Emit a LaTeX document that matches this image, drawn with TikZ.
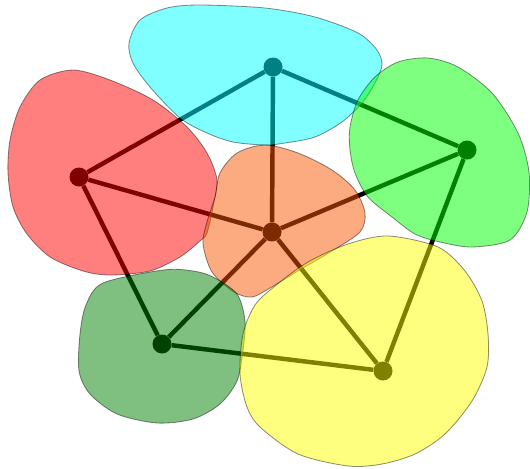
\documentclass[tikz,border=0pt]{standalone}
\usepackage{xcolor}
\usepackage{tikz}
\definecolor{regcyan}{RGB}{0,255,255}
\definecolor{reggreen}{RGB}{0,255,0}
\definecolor{regred}{RGB}{255,0,0}
\definecolor{regorange}{RGB}{250,85,0}
\definecolor{regdark}{RGB}{0,128,0}
\definecolor{regyellow}{RGB}{255,255,0}

\begin{document}
\begin{tikzpicture}[
    x=0.03cm, y=-0.03cm,
    vertex/.style={circle, fill=black, inner sep=0pt, minimum size=0.57cm},
    edge/.style={line width=3.8pt, black},
    region/.style={draw=black, draw opacity=0.45, fill opacity=0.5,
                   line width=0.7pt},
]
\useasboundingbox (0,0) rectangle (530,468);

%% Vertices
\node[vertex] (top)    at (273,67)  {};
\node[vertex] (right)  at (467,150) {};
\node[vertex] (left)   at (79,177)  {};
\node[vertex] (centre) at (272,232) {};
\node[vertex] (lower)  at (162,344) {};
\node[vertex] (bottom) at (383,371) {};

%% Edges
\draw[edge] (top)    -- (left);
\draw[edge] (top)    -- (centre);
\draw[edge] (top)    -- (right);
\draw[edge] (left)   -- (centre);
\draw[edge] (left)   -- (lower);
\draw[edge] (centre) -- (right);
\draw[edge] (centre) -- (lower);
\draw[edge] (centre) -- (bottom);
\draw[edge] (right)  -- (bottom);
\draw[edge] (lower)  -- (bottom);

%% Regions
\draw[region, fill=regcyan] plot[smooth cycle] coordinates {
    (129,43) (140,20) (167,8) (200,5) (265,8) (315,17) (358,33) (377,50)
    (382,65) (375,83) (362,103) (342,122) (315,137) (285,143) (265,145)
    (233,142) (207,133) (180,118) (150,87) (133,63)};
\draw[region, fill=regred] plot[smooth cycle] coordinates {
    (73,70) (110,80) (153,100) (187,127) (207,153) (217,180) (213,207)
    (207,233) (200,241) (180,257) (150,271) (110,275) (83,271) (50,257)
    (27,234) (13,207) (8,173) (10,140) (20,107) (40,80)};
\draw[region, fill=reggreen] plot[smooth cycle] coordinates {
    (428,58) (458,67) (492,93) (518,133) (529,172) (527,212) (510,240)
    (472,247) (440,242) (415,234) (392,217) (368,197) (355,173)
    (350,150) (350,127) (358,100) (375,77) (398,62)};
\draw[region, fill=regorange] plot[smooth cycle] coordinates {
    (265,145) (298,153) (332,170) (355,190) (365,213) (360,232) (332,251)
    (298,271) (270,288) (252,297) (234,292) (212,272) (203,244) (207,222)
    (215,197) (220,173) (237,153)};
\draw[region, fill=regdark] plot[smooth cycle] coordinates {
    (163,270) (193,271) (213,277) (237,294) (245,321) (243,351) (237,381)
    (220,404) (193,419) (157,423) (117,414) (90,394) (79,371) (80,334)
    (86,305) (103,283)};
\draw[region, fill=regyellow] plot[smooth cycle] coordinates {
    (388,236) (438,247) (465,271) (482,301) (488,334) (487,367) (472,401)
    (445,434) (415,454) (382,464) (348,466) (298,454) (260,427) (247,407)
    (240,374) (243,334) (255,305) (275,286) (308,262) (348,244)};

\end{tikzpicture}
\end{document}
